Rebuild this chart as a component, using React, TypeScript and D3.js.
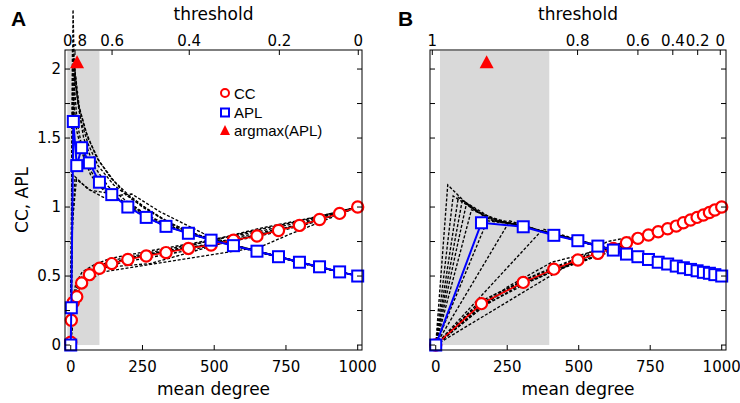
import { useEffect, useRef } from 'react'
import * as d3 from 'd3'

type Pt = [number, number]

// panel A: mean degree reached at each threshold step, with CC and APL
const mdA = [0, 2, 9, 21, 38, 65, 100, 143, 199, 263, 332, 410, 489, 567, 649, 724, 797, 867, 937, 1000]
const ccA = [0.02, 0.18, 0.31, 0.35, 0.45, 0.51, 0.556, 0.59, 0.62, 0.645, 0.67, 0.7, 0.725, 0.76, 0.79, 0.83, 0.867, 0.91, 0.954, 1.0]
const aplA = [0, 0.27, 1.62, 1.3, 1.43, 1.32, 1.18, 1.09, 1.0, 0.925, 0.86, 0.81, 0.76, 0.72, 0.68, 0.64, 0.6, 0.567, 0.53, 0.5]

// panel B
const mdB = [0, 160, 306, 413, 497, 567, 621, 667, 707, 744, 778, 811, 841, 866, 891, 914, 936, 957, 976, 1000]
const ccB = [0, 0.3, 0.454, 0.55, 0.616, 0.664, 0.7, 0.741, 0.773, 0.797, 0.821, 0.843, 0.862, 0.886, 0.906, 0.925, 0.942, 0.96, 0.978, 1.0]
const aplB = [0, 0.886, 0.857, 0.795, 0.756, 0.717, 0.688, 0.659, 0.64, 0.62, 0.6, 0.587, 0.572, 0.56, 0.548, 0.538, 0.527, 0.52, 0.51, 0.5]

// other realisations (dashed black), [mean degree, value]
const aplRunsA: Pt[][] = [
  [[0, 0], [4, 1.2], [8, 2.43], [12, 2.05], [25, 1.75], [45, 1.5], [80, 1.3], [130, 1.15], [190, 1.05], [260, 0.95], [330, 0.875], [410, 0.815], [490, 0.765], [570, 0.72], [650, 0.68], [800, 0.6], [1000, 0.5]],
  [[0, 0], [3, 1.1], [6, 2.15], [12, 1.9], [22, 1.62], [40, 1.42], [70, 1.26], [110, 1.14], [170, 1.05], [240, 0.96], [320, 0.87], [400, 0.815], [500, 0.755], [620, 0.69], [760, 0.62], [880, 0.56], [1000, 0.5]],
  [[0, 0], [5, 1.3], [10, 2.1], [20, 1.85], [35, 1.63], [60, 1.46], [95, 1.3], [150, 1.16], [210, 1.06], [280, 0.97], [360, 0.86], [450, 0.79], [560, 0.725], [700, 0.655], [850, 0.57], [1000, 0.5]],
  [[0, 0], [6, 1.2], [12, 1.95], [25, 1.76], [50, 1.56], [90, 1.36], [140, 1.21], [200, 1.09], [270, 0.98], [350, 0.88], [440, 0.8], [540, 0.74], [680, 0.665], [830, 0.58], [1000, 0.5]],
  [[0, 0], [7, 1.4], [14, 2.0], [30, 1.72], [60, 1.5], [100, 1.33], [150, 1.19], [183, 1.11], [250, 1.0], [330, 0.9], [420, 0.815], [520, 0.745], [650, 0.68], [800, 0.6], [1000, 0.5]],
  [[0, 0], [4, 1.0], [9, 1.8], [20, 1.56], [40, 1.39], [70, 1.23], [110, 1.13], [170, 1.05], [240, 0.95], [320, 0.87], [410, 0.81], [500, 0.755], [640, 0.685], [790, 0.6], [1000, 0.5]],
  [[0, 0], [5, 0.8], [15, 1.22], [60, 1.13], [114, 1.07], [178, 1.087], [213, 1.094], [311, 0.966], [461, 0.81], [560, 0.73], [700, 0.655], [860, 0.57], [1000, 0.5]],
  [[0, 0], [6, 0.9], [20, 1.2], [70, 1.12], [137, 1.1], [199, 1.02], [263, 0.945], [340, 0.86], [430, 0.795], [530, 0.74], [660, 0.67], [820, 0.585], [1000, 0.5]],
]
const ccRunsA: Pt[][] = [
  [[0, 0], [8, 0.3], [20, 0.4], [40, 0.47], [70, 0.52], [110, 0.56], [160, 0.6], [230, 0.635], [320, 0.67], [420, 0.705], [520, 0.745], [620, 0.785], [720, 0.83], [820, 0.88], [920, 0.94], [1000, 1.0]],
  [[0, 0], [6, 0.32], [18, 0.45], [40, 0.53], [80, 0.58], [137, 0.628], [220, 0.66], [320, 0.7], [420, 0.735], [520, 0.775], [660, 0.846], [800, 0.905], [900, 0.95], [1000, 1.0]],
  [[0, 0], [12, 0.33], [35, 0.44], [114, 0.53], [660, 0.71], [760, 0.8], [880, 0.9], [1000, 1.0]],
  [[0, 0], [10, 0.35], [40, 0.5], [100, 0.56], [277, 0.59], [566, 0.76], [700, 0.82], [850, 0.9], [1000, 1.0]],
  [[0, 0], [5, 0.28], [25, 0.46], [60, 0.53], [137, 0.61], [300, 0.68], [500, 0.76], [640, 0.83], [800, 0.9], [1000, 1.0]],
  [[0, 0], [8, 0.34], [30, 0.47], [80, 0.55], [150, 0.6], [250, 0.65], [400, 0.71], [509, 0.77], [650, 0.82], [800, 0.89], [1000, 1.0]],
  [[0, 0], [12, 0.36], [45, 0.5], [100, 0.57], [200, 0.63], [330, 0.68], [480, 0.73], [600, 0.79], [750, 0.85], [900, 0.94], [1000, 1.0]],
  [[0, 0], [7, 0.3], [28, 0.43], [90, 0.54], [180, 0.6], [290, 0.64], [420, 0.69], [560, 0.75], [700, 0.81], [850, 0.89], [1000, 1.0]],
]
const aplRunsB: Pt[][] = [
  [[0, 0], [42, 1.16], [120, 1.0], [200, 0.9], [300, 0.865], [410, 0.8], [500, 0.755], [620, 0.69], [740, 0.625], [860, 0.56], [1000, 0.5]],
  [[0, 0], [61, 1.08], [150, 0.96], [230, 0.9], [330, 0.85], [440, 0.785], [560, 0.72], [680, 0.65], [800, 0.59], [920, 0.535], [1000, 0.5]],
  [[0, 0], [79, 1.07], [170, 0.93], [260, 0.89], [360, 0.83], [470, 0.77], [590, 0.7], [710, 0.64], [840, 0.57], [1000, 0.5]],
  [[0, 0], [93, 1.05], [190, 0.91], [290, 0.87], [400, 0.81], [510, 0.75], [640, 0.67], [770, 0.6], [900, 0.545], [1000, 0.5]],
  [[0, 0], [108, 1.03], [210, 0.9], [310, 0.86], [420, 0.8], [530, 0.74], [660, 0.66], [790, 0.59], [1000, 0.5]],
  [[0, 0], [125, 0.98], [220, 0.9], [320, 0.855], [430, 0.79], [540, 0.735], [670, 0.655], [810, 0.58], [1000, 0.5]],
  [[0, 0], [180, 0.9], [280, 0.875], [390, 0.815], [500, 0.755], [620, 0.69], [750, 0.62], [880, 0.555], [1000, 0.5]],
  [[0, 0], [259, 0.9], [350, 0.84], [460, 0.78], [570, 0.72], [700, 0.645], [850, 0.565], [1000, 0.5]],
  [[0, 0], [375, 0.84], [470, 0.78], [580, 0.715], [700, 0.645], [830, 0.575], [1000, 0.5]],
]
const ccRunsB: Pt[][] = [
  [[0, 0], [137, 0.28], [300, 0.45], [405, 0.54], [500, 0.61], [590, 0.69], [700, 0.77], [800, 0.83], [900, 0.91], [1000, 1.0]],
  [[0, 0], [170, 0.33], [320, 0.48], [430, 0.57], [520, 0.64], [620, 0.71], [720, 0.78], [830, 0.86], [920, 0.93], [1000, 1.0]],
  [[0, 0], [200, 0.36], [360, 0.52], [470, 0.61], [560, 0.67], [650, 0.73], [760, 0.8], [860, 0.88], [1000, 1.0]],
  [[0, 0], [120, 0.24], [260, 0.41], [380, 0.51], [480, 0.59], [580, 0.66], [680, 0.74], [800, 0.82], [1000, 1.0]],
  [[0, 0], [600, 0.75], [700, 0.79], [820, 0.86], [1000, 1.0]],
  [[0, 0], [250, 0.42], [406, 0.6], [520, 0.66], [650, 0.74], [800, 0.83], [1000, 1.0]],
  [[0, 0], [150, 0.26], [290, 0.43], [406, 0.53], [590, 0.66], [700, 0.75], [850, 0.87], [1000, 1.0]],
  [[0, 0], [180, 0.3], [330, 0.46], [440, 0.56], [540, 0.63], [640, 0.72], [760, 0.8], [880, 0.9], [1000, 1.0]],
]

// top axis: threshold labels at the mean degree they correspond to
const thrLabelsA = ['0.8', '0.6', '0.4', '0.2', '0']
const thrPosA = [15, 144, 413, 727, 1002]
const thrLabelsB = ['1', '0.8', '0.6', '0.4', '0.2', '0']
const thrPosB = [-12, 496, 707, 829, 916, 995]

const xTicks = [0, 250, 500, 750, 1000]
const yTicks = [0, 0.25, 0.5, 0.75, 1, 1.25, 1.5, 1.75, 2]
const yLabels = [0, 0.5, 1, 1.5, 2]

const shadeA: [number, number] = [-12, 100]
const shadeB: [number, number] = [15, 397]
const argmaxA = 22
const argmaxB = 178
const argmaxLevel = 2.05

const FONT = 'DejaVu Sans'

export default function App() {
  const svgRef = useRef<SVGSVGElement>(null)

  useEffect(() => {
    if (!svgRef.current) return
    const svg = d3.select(svgRef.current)
    svg.selectAll('*').remove()

    const top = 50, bottom = 350
    const y = d3.scaleLinear().domain([-0.036, 2.138]).range([bottom, top])

    const panels = [
      { key: 'A', left: 65, right: 362, md: mdA, cc: ccA, apl: aplA, aplRuns: aplRunsA, ccRuns: ccRunsA,
        thrLabels: thrLabelsA, thrPos: thrPosA, shade: shadeA, argmax: argmaxA, yLab: true },
      { key: 'B', left: 430, right: 726, md: mdB, cc: ccB, apl: aplB, aplRuns: aplRunsB, ccRuns: ccRunsB,
        thrLabels: thrLabelsB, thrPos: thrPosB, shade: shadeB, argmax: argmaxB, yLab: false },
    ]

    panels.forEach(p => {
      const x = d3.scaleLinear().domain([-20, 1015]).range([p.left, p.right])
      const g = svg.append('g')
      const line = d3.line<Pt>().x(d => x(d[0])).y(d => y(d[1]))

      // shaded range
      g.append('rect')
        .attr('x', x(p.shade[0])).attr('width', x(p.shade[1]) - x(p.shade[0]))
        .attr('y', top + 1).attr('height', y(0) - top - 1)
        .attr('fill', '#d9d9d9')

      // dashed realisations
      ;[...p.ccRuns, ...p.aplRuns].forEach(run => {
        g.append('path').attr('d', line(run)!)
          .attr('fill', 'none').attr('stroke', '#000').attr('stroke-width', 1.35)
          .attr('stroke-dasharray', '3,1.8')
      })

      const ccPts: Pt[] = p.md.map((m, i) => [m, p.cc[i]])
      const aplPts: Pt[] = p.md.map((m, i) => [m, p.apl[i]])

      g.append('path').attr('d', line(ccPts)!).attr('fill', 'none')
        .attr('stroke', '#ff0000').attr('stroke-width', 1.5)
      g.selectAll('circle.cc').data(ccPts).enter().append('circle')
        .attr('cx', d => x(d[0])).attr('cy', d => y(d[1])).attr('r', 5.6)
        .attr('fill', '#fff').attr('stroke', '#ff0000').attr('stroke-width', 2.2)

      g.append('path').attr('d', line(aplPts)!).attr('fill', 'none')
        .attr('stroke', '#0000ff').attr('stroke-width', 2)
      g.selectAll('rect.apl').data(aplPts).enter().append('rect')
        .attr('x', d => x(d[0]) - 5.5).attr('y', d => y(d[1]) - 5.5)
        .attr('width', 11).attr('height', 11)
        .attr('fill', '#fff').attr('stroke', '#0000ff').attr('stroke-width', 2)

      // argmax marker
      const tx = x(p.argmax), ty = y(argmaxLevel)
      g.append('path').attr('d', `M${tx},${ty - 7}L${tx + 7},${ty + 6}L${tx - 7},${ty + 6}Z`).attr('fill', '#ff0000')

      // frame
      g.append('rect').attr('x', p.left).attr('y', top)
        .attr('width', p.right - p.left).attr('height', bottom - top)
        .attr('fill', 'none').attr('stroke', '#000').attr('stroke-width', 1)

      // bottom ticks
      xTicks.forEach(t => {
        g.append('line').attr('x1', x(t)).attr('x2', x(t)).attr('y1', bottom).attr('y2', bottom - 5).attr('stroke', '#000')
        g.append('text').attr('x', x(t)).attr('y', bottom + 22).attr('text-anchor', 'middle')
          .attr('font-family', FONT).attr('font-size', 15).text(t)
      })
      g.append('text').attr('x', (p.left + p.right) / 2).attr('y', 395).attr('text-anchor', 'middle')
        .attr('font-family', FONT).attr('font-size', 17).text('mean degree')

      // top threshold ticks
      p.thrPos.forEach((m, i) => {
        g.append('line').attr('x1', x(m)).attr('x2', x(m)).attr('y1', top).attr('y2', top + 5).attr('stroke', '#000')
        g.append('text').attr('x', x(m)).attr('y', top - 4).attr('text-anchor', 'middle')
          .attr('font-family', FONT).attr('font-size', 15).text(p.thrLabels[i])
      })
      g.append('text').attr('x', (p.left + p.right) / 2).attr('y', 20).attr('text-anchor', 'middle')
        .attr('font-family', FONT).attr('font-size', 17).text('threshold')

      // y ticks both sides
      yTicks.forEach(t => {
        g.append('line').attr('x1', p.left).attr('x2', p.left + 5).attr('y1', y(t)).attr('y2', y(t)).attr('stroke', '#000')
        g.append('line').attr('x1', p.right).attr('x2', p.right - 5).attr('y1', y(t)).attr('y2', y(t)).attr('stroke', '#000')
      })
      if (p.yLab) {
        yLabels.forEach(t => {
          g.append('text').attr('x', p.left - 4).attr('y', y(t) + 5).attr('text-anchor', 'end')
            .attr('font-family', FONT).attr('font-size', 15).text(t)
        })
        g.append('text').attr('transform', `translate(28,${(top + bottom) / 2}) rotate(-90)`)
          .attr('text-anchor', 'middle').attr('font-family', FONT).attr('font-size', 17).text('CC, APL')
      }

      svg.append('text').attr('x', p.key === 'A' ? 11 : 398).attr('y', 26)
        .attr('font-family', 'Liberation Sans').attr('font-weight', 'bold').attr('font-size', 21).text(p.key)
    })

    // legend
    const lg = svg.append('g').attr('font-family', 'Liberation Sans').attr('font-size', 15)
    lg.append('circle').attr('cx', 225).attr('cy', 93).attr('r', 4).attr('fill', '#fff').attr('stroke', '#ff0000').attr('stroke-width', 2)
    lg.append('text').attr('x', 234).attr('y', 98.5).text('CC')
    lg.append('rect').attr('x', 221).attr('y', 108.5).attr('width', 8).attr('height', 8).attr('fill', '#fff').attr('stroke', '#0000ff').attr('stroke-width', 2)
    lg.append('text').attr('x', 234).attr('y', 117.5).text('APL')
    lg.append('path').attr('d', 'M225,125L230,135L220,135Z').attr('fill', '#ff0000')
    lg.append('text').attr('x', 234).attr('y', 136).text('argmax(APL)')
  }, [])

  return (
    <div style={{ width: 740, height: 403 }}>
      <svg ref={svgRef} width={740} height={403} style={{ position: 'absolute', left: 0, top: 0 }} />
    </div>
  )
}
